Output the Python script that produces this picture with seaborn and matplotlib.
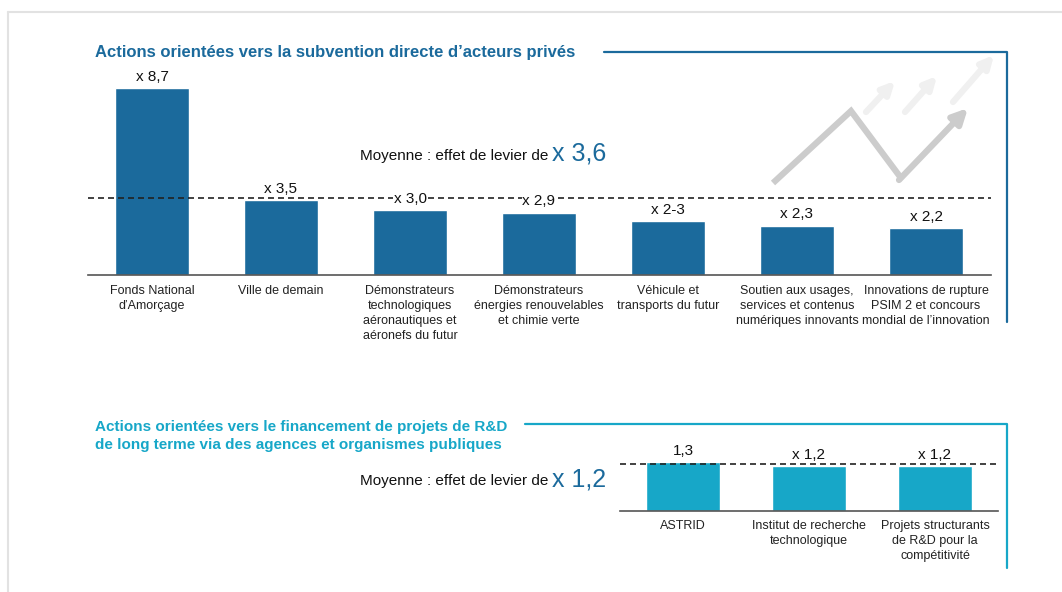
import matplotlib
matplotlib.use("Agg")
import matplotlib.pyplot as plt
import pandas as pd
import seaborn as sns

# data - top block (direct subsidies)
top_title = "Actions orientées vers la subvention directe d’acteurs privés"
top_cats = ["Fonds National\nd’Amorçage",
            "Ville de demain",
            "Démonstrateurs\ntechnologiques\naéronautiques et\naéronefs du futur",
            "Démonstrateurs\nénergies renouvelables\net chimie verte",
            "Véhicule et\ntransports du futur",
            "Soutien aux usages,\nservices et contenus\nnumériques innovants",
            "Innovations de rupture\nPSIM 2 et concours\nmondial de l’innovation"]
top_vals = [8.7, 3.5, 3.0, 2.9, 2.5, 2.3, 2.2]
top_labels = ["x 8,7", "x 3,5", "x 3,0", "x 2,9", "x 2-3", "x 2,3", "x 2,2"]
top_mean = 3.6
top_mean_label = "x 3,6"

# data - bottom block (long term R&D)
bot_title = "Actions orientées vers le financement de projets de R&D\nde long terme via des agences et organismes publiques"
bot_cats = ["ASTRID",
            "Institut de recherche\ntechnologique",
            "Projets structurants\nde R&D pour la\ncompétitivité"]
bot_vals = [1.3, 1.2, 1.2]
bot_labels = ["1,3", "x 1,2", "x 1,2"]
bot_mean_line = 1.25   # dashed line as drawn in the original
bot_mean_label = "x 1,2"

dark_blue = "#1b6a9c"
teal = "#17a7c8"

sns.set_style("white")
plt.rcParams["font.family"] = ["Liberation Sans", "DejaVu Sans"]

W, H = 1062, 592
fig = plt.figure(figsize=(W / 100, H / 100), dpi=100)


def box(x0, x1, y_top, y_bot):
    return [x0 / W, 1 - y_bot / H, (x1 - x0) / W, (y_bot - y_top) / H]


def style_ax(ax, n):
    ax.set_xlim(-0.5, n - 0.5)
    ax.set_xlabel("")
    ax.set_ylabel("")
    ax.set_yticks([])
    for s in ["top", "left", "right"]:
        ax.spines[s].set_visible(False)
    ax.spines["bottom"].set_color("#555555")
    ax.spines["bottom"].set_linewidth(1.2)
    ax.tick_params(axis="x", length=0, pad=7, labelsize=9, labelcolor="#222222")
    for t in ax.get_xticklabels():
        t.set_linespacing(1.33)
    ax.patch.set_visible(False)


# top chart
ax1 = fig.add_axes(box(87.5, 990.5, 60, 275))
df_top = pd.DataFrame({"cat": top_cats, "val": top_vals})
sns.barplot(data=df_top, x="cat", y="val", color=dark_blue, saturation=1,
            width=0.574, errorbar=None, ax=ax1)
ax1.set_ylim(0, 10)
style_ax(ax1, len(top_cats))
ax1.axhline(top_mean, color="#222222", lw=1.2, ls="--", dashes=(3.6, 2.4), zorder=1)
for i, (v, l) in enumerate(zip(top_vals, top_labels)):
    ax1.annotate(l, (i, v), xytext=(0, 3), textcoords="offset points", ha="center",
                 va="bottom", fontsize=11, color="#111111", zorder=5,
                 bbox=dict(facecolor="white", edgecolor="none", pad=0.5))

# bottom chart
ax2 = fig.add_axes(box(620, 998, 435.7, 510.7))
df_bot = pd.DataFrame({"cat": bot_cats, "val": bot_vals})
sns.barplot(data=df_bot, x="cat", y="val", color=teal, saturation=1,
            width=0.58, errorbar=None, ax=ax2)
ax2.set_ylim(0, 2)
style_ax(ax2, len(bot_cats))
ax2.axhline(bot_mean_line, color="#222222", lw=1.2, ls="--", dashes=(3.6, 2.4), zorder=1)
for i, (v, l) in enumerate(zip(bot_vals, bot_labels)):
    ax2.annotate(l, (i, v), xytext=(0, 3), textcoords="offset points", ha="center",
                 va="bottom", fontsize=11, color="#111111", zorder=5,
                 bbox=dict(facecolor="white", edgecolor="none", pad=0.5))

# overlay for titles, frames and decoration (pixel coords)
ov = fig.add_axes([0, 0, 1, 1], zorder=10)
ov.set_xlim(0, W)
ov.set_ylim(H, 0)
ov.axis("off")

# light page border
ov.plot([8, 8], [12, H], color="#e2e2e2", lw=1.5)
ov.plot([8, W], [12, 12], color="#e2e2e2", lw=1.5)

# top block
ov.text(95, 52, top_title, fontsize=12, fontweight="bold", color=dark_blue, va="center")
ov.plot([604, 1007, 1007], [52, 52, 322], color=dark_blue, lw=1.6)
ov.text(548, 160, "Moyenne : effet de levier de", fontsize=11, color="#111111",
        ha="right", va="baseline")
ov.text(552, 161, top_mean_label, fontsize=18, color=dark_blue, va="baseline")

# gray zigzag arrow
ov.plot([773, 851, 901], [183, 111, 178], color="#cccccc", lw=4.5,
        solid_joinstyle="miter", solid_capstyle="butt")
ov.annotate("", xy=(968, 108), xytext=(899, 180),
            arrowprops=dict(arrowstyle="-|>", color="#cccccc", lw=4.5,
                            mutation_scale=22, shrinkA=0, shrinkB=0))
for (x0, y0, x1, y1) in [(866, 112, 895, 81), (905, 112, 937, 76), (953, 102, 994, 55)]:
    ov.annotate("", xy=(x1, y1), xytext=(x0, y0),
                arrowprops=dict(arrowstyle="-|>", color="#f0f0f0", lw=4.5,
                                mutation_scale=18, shrinkA=0, shrinkB=0))

# bottom block
ov.text(95, 436, bot_title, fontsize=11, fontweight="bold", color=teal, va="center",
        linespacing=1.4)
ov.plot([525, 1007, 1007], [424, 424, 568], color=teal, lw=1.6)
ov.text(548, 485, "Moyenne : effet de levier de", fontsize=11, color="#111111",
        ha="right", va="baseline")
ov.text(552, 486, bot_mean_label, fontsize=18, color=dark_blue, va="baseline")

fig.savefig("out.png", dpi=100)
